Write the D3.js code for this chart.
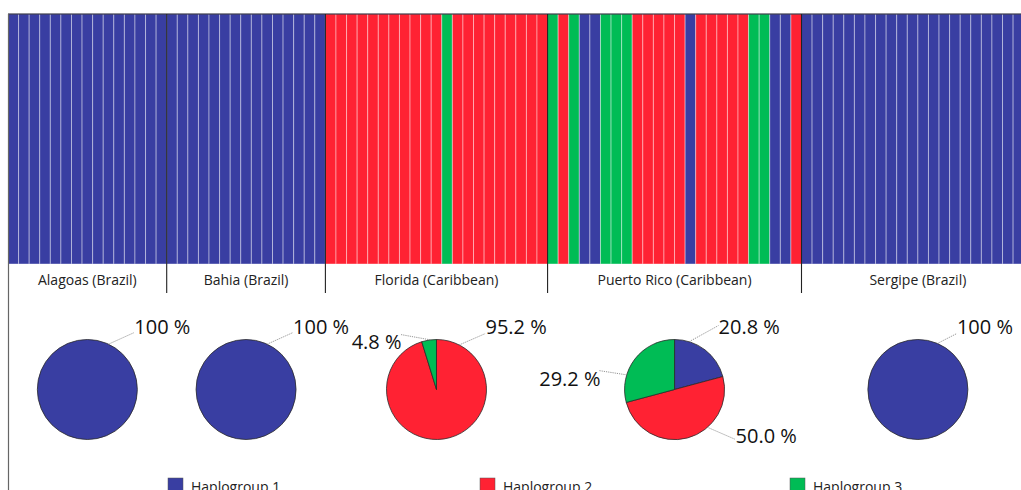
<!DOCTYPE html>
<html>
<head>
<meta charset="utf-8">
<script src="https://cdn.jsdelivr.net/npm/d3@7"></script>
<style>
  body { margin: 0; background: #fff; }
  svg { display: block; }
</style>
</head>
<body>
<div id="chart"></div>
<script>
// Populations and the haplogroup of each individual (1, 2 or 3), left to right
const populations = ['Alagoas (Brazil)', 'Bahia (Brazil)', 'Florida (Caribbean)', 'Puerto Rico (Caribbean)', 'Sergipe (Brazil)'];
const alagoas = [1, 1, 1, 1, 1, 1, 1, 1, 1, 1, 1, 1, 1, 1, 1];
const bahia = [1, 1, 1, 1, 1, 1, 1, 1, 1, 1, 1, 1, 1, 1, 1];
const florida = [2, 2, 2, 2, 2, 2, 2, 2, 2, 2, 2, 3, 2, 2, 2, 2, 2, 2, 2, 2, 2];
const puertoRico = [3, 2, 3, 1, 1, 3, 3, 3, 2, 2, 2, 2, 2, 1, 2, 2, 2, 2, 2, 3, 3, 1, 1, 2];
const sergipe = [1, 1, 1, 1, 1, 1, 1, 1, 1, 1, 1, 1, 1, 1, 1, 1, 1, 1, 1, 1, 1, 1];
const haplogroups = ['Haplogroup 1', 'Haplogroup 2', 'Haplogroup 3'];
const colors = ['#393ea2', '#ff2233', '#00bc55'];

const groups = [alagoas, bahia, florida, puertoRico, sergipe];

// label placement for the pie percentages (angle on circle, leader end, text pos), per population / haplogroup
const labelLayout = {
  0: { 1: { a: 25, ex: 47, ey: -57, tx: 47, ty: -56, anchor: 'start' } },
  1: { 1: { a: 25, ex: 47, ey: -57, tx: 47, ty: -56, anchor: 'start' } },
  2: {
    2: { a: 27, ex: 49, ey: -56, tx: 49, ty: -56, anchor: 'start' },
    3: { a: -7, ex: -36, ey: -55, tx: -35, ty: -41, anchor: 'end' }
  },
  3: {
    1: { a: 17, ex: 44, ey: -64, tx: 44, ty: -56, anchor: 'start' },
    2: { a: 139, ex: 61, ey: 50, tx: 61, ty: 53, anchor: 'start' },
    3: { a: -73, ex: -76, ey: -19, tx: -74, ty: -4, anchor: 'end' }
  },
  4: { 1: { a: 23, ex: 39, ey: -56, tx: 39, ty: -56, anchor: 'start' } }
};

const W = 1021, H = 490;
const font = "'Open Sans', 'DejaVu Sans', sans-serif";

const svg = d3.select('#chart').append('svg')
  .attr('width', W)
  .attr('height', H);

// flatten individuals
const individuals = [];
groups.forEach((g, pi) => g.forEach((h) => individuals.push({ pop: pi, h })));

const barTop = 14, barBottom = 264, labelBottom = 293;
const x = d3.scaleBand()
  .domain(d3.range(individuals.length))
  .range([8, 8 + individuals.length * 10.58])
  .padding(0);

const y = d3.scaleLinear().domain([0, 1]).range([barBottom, barTop]);

// bars
svg.selectAll('.bar')
  .data(individuals)
  .enter()
  .append('rect')
  .attr('class', 'bar')
  .attr('x', (d, i) => x(i))
  .attr('y', y(1))
  .attr('width', x.bandwidth())
  .attr('height', y(0) - y(1))
  .attr('fill', (d) => colors[d.h - 1])
  .attr('stroke', 'rgba(255,255,255,0.4)')
  .attr('stroke-width', 1);

// population spans
const spans = [];
let start = 0;
groups.forEach((g, pi) => {
  spans.push({ pop: pi, x0: x(start), x1: x(start) + g.length * x.bandwidth() });
  start += g.length;
});

// top border
svg.append('line')
  .attr('x1', 8).attr('x2', W)
  .attr('y1', barTop).attr('y2', barTop)
  .attr('stroke', '#1a1a2a')
  .attr('stroke-width', 1.2);

// left border
svg.append('line')
  .attr('x1', 8.5).attr('x2', 8.5)
  .attr('y1', barTop).attr('y2', H)
  .attr('stroke', '#666')
  .attr('stroke-width', 1.2);

// population separators
svg.selectAll('.sep')
  .data(spans.slice(1))
  .enter()
  .append('line')
  .attr('x1', (d) => d.x0).attr('x2', (d) => d.x0)
  .attr('y1', barTop).attr('y2', labelBottom)
  .attr('stroke', '#222')
  .attr('stroke-width', 1.1);

// population labels
svg.selectAll('.poplabel')
  .data(spans)
  .enter()
  .append('text')
  .attr('x', (d) => (d.x0 + d.x1) / 2)
  .attr('y', 285)
  .attr('text-anchor', 'middle')
  .style('font-family', font)
  .style('font-size', '14px')
  .style('fill', '#222')
  .text((d) => populations[d.pop]);

// pies
const radius = 50, pieY = 389.5;
const pie = d3.pie().sort(null).value((d) => d.count);
const arc = d3.arc().innerRadius(0).outerRadius(radius);
const fmt = (v) => (v >= 99.95 ? '100 %' : d3.format('.1f')(v) + ' %');

spans.forEach((s) => {
  const g = groups[s.pop];
  const counts = haplogroups.map((name, hi) => ({ h: hi + 1, count: g.filter((v) => v === hi + 1).length }))
    .filter((d) => d.count > 0);
  const cx = (s.x0 + s.x1) / 2;
  const pg = svg.append('g').attr('transform', `translate(${cx},${pieY})`);

  pg.selectAll('path')
    .data(pie(counts))
    .enter()
    .append('path')
    .attr('d', arc)
    .attr('fill', (d) => colors[d.data.h - 1])
    .attr('stroke', '#2a2a2a')
    .attr('stroke-width', 0.8);

  counts.forEach((c) => {
    const lay = labelLayout[s.pop][c.h];
    const rad = (lay.a * Math.PI) / 180;
    pg.append('line')
      .attr('x1', radius * Math.sin(rad))
      .attr('y1', -radius * Math.cos(rad))
      .attr('x2', lay.ex)
      .attr('y2', lay.ey)
      .attr('stroke', '#888')
      .attr('stroke-width', 0.9)
      .attr('stroke-dasharray', '1.2,1');
    pg.append('text')
      .attr('x', lay.tx)
      .attr('y', lay.ty)
      .attr('text-anchor', lay.anchor)
      .style('font-family', font)
      .style('font-size', '20px')
      .style('fill', '#111')
      .text(fmt((100 * c.count) / g.length));
  });
});

// legend
const legendX = [168, 480, 790];
const legend = svg.selectAll('.legend')
  .data(haplogroups)
  .enter()
  .append('g')
  .attr('transform', (d, i) => `translate(${legendX[i]},478)`);

legend.append('rect')
  .attr('width', 15)
  .attr('height', 15)
  .attr('fill', (d, i) => colors[i])
  .attr('stroke', '#555')
  .attr('stroke-width', 0.5);

legend.append('text')
  .attr('x', 23)
  .attr('y', 14)
  .style('font-family', font)
  .style('font-size', '14px')
  .style('fill', '#222')
  .text((d) => d);
</script>
</body>
</html>
